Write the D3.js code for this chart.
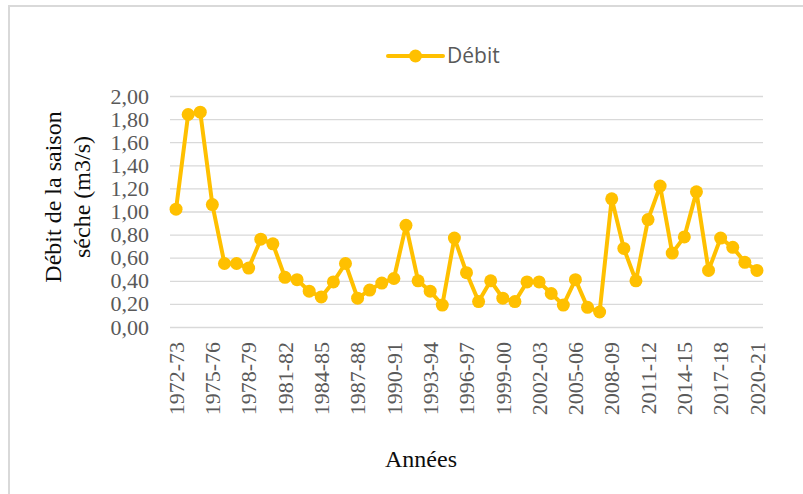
<!DOCTYPE html>
<html>
<head>
<meta charset="utf-8">
<script src="https://cdn.jsdelivr.net/npm/d3@7"></script>
<style>
  body { margin: 0; background: #fff; }
  svg { display: block; }
</style>
</head>
<body>
<div id="chart"></div>
<script>
// seasons 1972-73 .. 2020-21
const startYears = d3.range(1972, 2021);
const seasons = startYears.map(y => `${y}-${String((y + 1) % 100).padStart(2, '0')}`);

// dry-season discharge (m3/s)
const debit = [
  1.02, 1.84, 1.86, 1.06, 0.55, 0.55, 0.51, 0.76, 0.72, 0.43,
  0.41, 0.31, 0.26, 0.39, 0.55, 0.25, 0.32, 0.38, 0.42, 0.88,
  0.40, 0.31, 0.19, 0.77, 0.47, 0.22, 0.40, 0.25, 0.22, 0.39,
  0.39, 0.29, 0.19, 0.41, 0.17, 0.13, 1.11, 0.68, 0.40, 0.93,
  1.22, 0.64, 0.78, 1.17, 0.49, 0.77, 0.69, 0.56, 0.49
];

const yTicks = d3.range(0, 2.001, 0.2);
const tickLabels = seasons.filter((d, i) => i % 3 === 0);

const width = 803;
const height = 494;
const margin = { top: 96, right: 40, bottom: 167, left: 170 };
const plotRight = 763;
const plotBottom = 327;

const serif = '"Liberation Serif", "Times New Roman", serif';

const svg = d3.select('#chart').append('svg')
  .attr('width', width)
  .attr('height', height);

// chart frame
svg.append('rect')
  .attr('x', 9).attr('y', 6)
  .attr('width', width + 10).attr('height', height + 10)
  .attr('fill', '#fff')
  .attr('stroke', '#d9d9d9')
  .attr('stroke-width', 2);

const x = d3.scaleBand()
  .domain(seasons)
  .range([margin.left, plotRight]);

const y = d3.scaleLinear()
  .domain([0, 2])
  .range([plotBottom, margin.top]);

// gridlines + y labels
const yAxis = d3.axisLeft(y)
  .tickValues(yTicks)
  .tickSize(-(plotRight - margin.left))
  .tickPadding(21)
  .tickFormat(d => d3.format('.2f')(d).replace('.', ','));

const gy = svg.append('g')
  .attr('transform', `translate(${margin.left},0)`)
  .call(yAxis);
gy.select('.domain').remove();
gy.selectAll('.tick line').attr('stroke', '#d9d9d9').attr('stroke-width', 1.3);
gy.selectAll('.tick text')
  .attr('fill', '#595959')
  .style('font-family', serif)
  .style('font-size', '22px');

// x labels
const xAxis = d3.axisBottom(x)
  .tickValues(tickLabels)
  .tickSize(0)
  .tickPadding(0);

const gx = svg.append('g')
  .attr('transform', `translate(0,${plotBottom})`)
  .call(xAxis);
gx.select('.domain').remove();
gx.selectAll('.tick text')
  .attr('fill', '#595959')
  .attr('transform', 'rotate(-90)')
  .attr('text-anchor', 'end')
  .attr('x', -15)
  .attr('y', 0)
  .attr('dy', '0.35em')
  .style('font-family', serif)
  .style('font-size', '22px');

// line
const line = d3.line()
  .x((d, i) => x(seasons[i]) + x.bandwidth() / 2)
  .y(d => y(d));

svg.append('path')
  .datum(debit)
  .attr('fill', 'none')
  .attr('stroke', '#ffc000')
  .attr('stroke-width', 4)
  .attr('stroke-linejoin', 'round')
  .attr('d', line);

svg.selectAll('circle.pt')
  .data(debit)
  .join('circle')
  .attr('class', 'pt')
  .attr('cx', (d, i) => x(seasons[i]) + x.bandwidth() / 2)
  .attr('cy', d => y(d))
  .attr('r', 6.5)
  .attr('fill', '#ffc000');

// axis titles
const yTitle = svg.append('text')
  .attr('transform', 'translate(68,197) rotate(-90)')
  .attr('text-anchor', 'middle')
  .attr('fill', '#0d0d0d')
  .style('font-family', serif)
  .style('font-size', '24px');
yTitle.append('tspan').attr('x', 0).attr('dy', '-0.3em').text('Débit de la saison');
yTitle.append('tspan').attr('x', 0).attr('dy', '1.2em').text('séche (m3/s)');

svg.append('text')
  .attr('x', 421)
  .attr('y', 467)
  .attr('text-anchor', 'middle')
  .attr('fill', '#0d0d0d')
  .style('font-family', serif)
  .style('font-size', '24px')
  .text('Années');

// legend
const legend = svg.append('g').attr('transform', 'translate(388,56)');
legend.append('line')
  .attr('x1', 0).attr('x2', 55)
  .attr('stroke', '#ffc000')
  .attr('stroke-width', 4)
  .attr('stroke-linecap', 'round');
legend.append('circle')
  .attr('cx', 27.5).attr('r', 6.5)
  .attr('fill', '#ffc000');
legend.append('text')
  .attr('x', 59)
  .attr('dy', '0.35em')
  .attr('fill', '#595959')
  .style('font-family', '"Open Sans", "Liberation Sans", sans-serif')
  .style('font-size', '21px')
  .text('Débit');
</script>
</body>
</html>
